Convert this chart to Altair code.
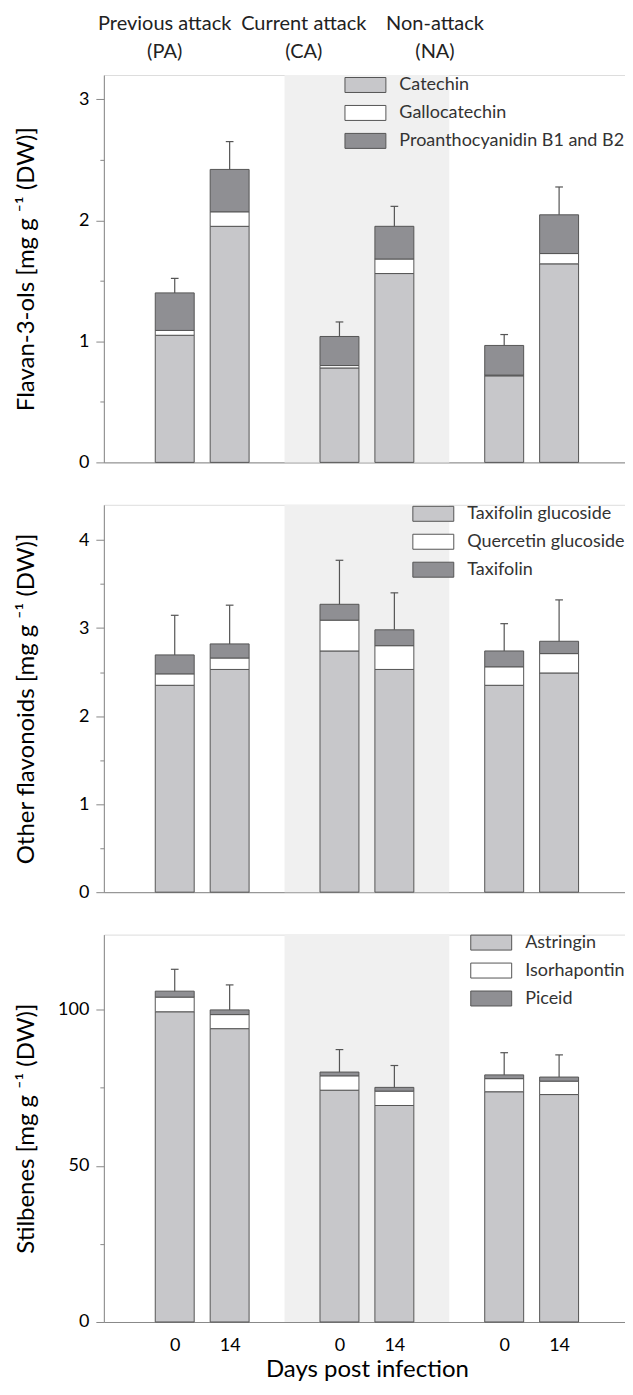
import altair as alt
import pandas as pd

FONT = "Lato"
TXT = "#333333"
AX = "#6a6a6a"
EDGE = "#555555"
LIGHT = "#c7c7ca"
WHITE = "#ffffff"
DARK = "#8f8f93"
BAND = "#f0f0f0"

# bar positions (0 / 14 dpi within PA, CA, NA groups)
x_pos = [1, 2, 4, 5, 7, 8]
day_labels = ["0", "14", "0", "14", "0", "14"]
band_x = [3]
band_x2 = [6]
header_x = [0.817, 3.35, 5.74]
header_text = ["Previous attack\n(PA)", "Current attack\n(CA)", "Non-attack\n(NA)"]

# Panel 1: Flavan-3-ols
p1_names = ["Catechin", "Gallocatechin", "Proanthocyanidin B1 and B2"]
p1_catechin = [1.05, 1.95, 0.78, 1.56, 0.715, 1.64]
p1_gallo = [0.04, 0.12, 0.02, 0.12, 0.006, 0.085]
p1_proan = [0.31, 0.35, 0.24, 0.27, 0.245, 0.32]
p1_err = [0.12, 0.23, 0.12, 0.165, 0.09, 0.23]

# Panel 2: Other flavonoids
p2_names = ["Taxifolin glucoside", "Quercetin glucoside", "Taxifolin"]
p2_tg = [2.35, 2.53, 2.74, 2.53, 2.35, 2.49]
p2_qg = [0.13, 0.13, 0.35, 0.27, 0.21, 0.22]
p2_t = [0.215, 0.16, 0.18, 0.18, 0.18, 0.14]
p2_err = [0.45, 0.44, 0.50, 0.42, 0.31, 0.47]

# Panel 3: Stilbenes
p3_names = ["Astringin", "Isorhapontin", "Piceid"]
p3_a = [99.3, 93.9, 74.2, 69.3, 73.7, 72.8]
p3_i = [4.7, 4.5, 4.6, 4.6, 4.2, 4.3]
p3_p = [1.9, 1.5, 1.2, 1.2, 1.2, 1.3]
p3_err = [7.0, 8.0, 7.2, 7.0, 7.1, 7.1]

W, H = 527, 388
XDOM = [-0.2, 9.2]
CAP = 0.07


def anchor(px, py):
    # invisible 1px layout anchor used to pin the figure's outer bounds
    return alt.Chart(pd.DataFrame({"a": [0]})).mark_rect(opacity=0).encode(
        x=alt.value(px), x2=alt.value(px + 1), y=alt.value(py), y2=alt.value(py + 1))


def panel(names, series, errs, ymax, ticks, major, ytitle, lx, ly,
          bottom=False, header=False):
    rows = []
    for k, (name, vals) in enumerate(zip(names, series)):
        for xp, v in zip(x_pos, vals):
            rows.append({"x": xp, "comp": name, "k": k, "v": v})
    df = pd.DataFrame(rows)
    totals = [sum(s[i] for s in series) for i in range(len(x_pos))]
    edf = pd.DataFrame({
        "x": x_pos,
        "total": totals,
        "top": [t + e for t, e in zip(totals, errs)],
        "xl": [x - CAP for x in x_pos],
        "xr": [x + CAP for x in x_pos],
    })
    bdf = pd.DataFrame({"x": band_x, "x2": band_x2, "y": [0], "y2": [ymax]})

    xscale = alt.Scale(domain=XDOM, nice=False, zero=False)
    yscale = alt.Scale(domain=[0, ymax], nice=False)
    if bottom:
        xaxis = alt.Axis(values=x_pos, labelExpr="datum.value % 3 == 1 ? '0' : '14'",
                         ticks=False, labelPadding=15, labelFontSize=18,
                         title="Days post infection", titleFontSize=24,
                         titleFontWeight="normal", titlePadding=3, grid=False)
    else:
        xaxis = alt.Axis(labels=False, ticks=False, title=None, grid=False)
    yaxis = alt.Axis(values=ticks,
                     labelExpr=f"datum.value % {major} ? '' : format(datum.value, 'd')",
                     tickSize={"condition": {"test": f"datum.value % {major} !== 0", "value": 4},
                               "value": 8},
                     labelPadding=7, labelFontSize=18, title=ytitle,
                     titleFontSize=24, titleFontWeight="normal",
                     titleX=-77, titleY=H / 2, titleBaseline="middle",
                     titleAlign="center", titleAngle=270, grid=False)

    band = alt.Chart(bdf).mark_rect(color=BAND).encode(
        x=alt.X("x:Q", scale=xscale, axis=xaxis),
        x2="x2",
        y=alt.Y("y:Q", scale=yscale, axis=yaxis),
        y2="y2",
    )
    bars = alt.Chart(df).mark_bar(size=39, stroke=EDGE, strokeWidth=1).encode(
        x=alt.X("x:Q", scale=xscale, axis=xaxis),
        y=alt.Y("v:Q", stack="zero", scale=yscale, axis=yaxis),
        color=alt.Color("comp:N",
                        scale=alt.Scale(domain=names, range=[LIGHT, WHITE, DARK]),
                        legend=alt.Legend(title=None, orient="none", legendX=lx, legendY=ly,
                                          padding=0,
                                          symbolType="M-2.733,-1H2.733V1H-2.733Z",
                                          symbolSize=225, symbolStrokeColor=EDGE,
                                          symbolStrokeWidth=1, symbolOpacity=1,
                                          labelFont=FONT, labelFontSize=18,
                                          labelColor=TXT, labelOffset=25,
                                          labelLimit=0, rowPadding=8)),
        order=alt.Order("k:Q", sort="ascending"),
    )
    err = alt.Chart(edf).mark_rule(color=EDGE, strokeWidth=1.2).encode(
        x=alt.X("x:Q", scale=xscale, axis=xaxis),
        y=alt.Y("total:Q", scale=yscale, axis=yaxis),
        y2="top",
    )
    cap = alt.Chart(edf).mark_rule(color=EDGE, strokeWidth=1.2).encode(
        x=alt.X("xl:Q", scale=xscale, axis=xaxis),
        x2="xr",
        y=alt.Y("top:Q", scale=yscale, axis=yaxis),
    )
    layers = [band, bars, err, cap]
    if header:
        hdf = pd.DataFrame({"hx": header_x, "label": header_text})
        head = alt.Chart(hdf).mark_text(font=FONT, fontSize=20, lineBreak="\n",
                                        lineHeight=28, baseline="alphabetic",
                                        align="center", color="#222222").encode(
            x=alt.X("hx:Q", scale=xscale, axis=xaxis),
            y=alt.value(-45),
            text="label:N",
        )
        layers += [head, anchor(-110, -95)]
    if bottom:
        layers.append(anchor(560, H + 80))
    return alt.layer(*layers).properties(width=W, height=H)


c1 = panel(p1_names, [p1_catechin, p1_gallo, p1_proan], p1_err, 3.2,
           [0, 0.5, 1, 1.5, 2, 2.5, 3], 1, "Flavan-3-ols [mg g ⁻¹ (DW)]", 253, 1,
           header=True)
c2 = panel(p2_names, [p2_tg, p2_qg, p2_t], p2_err, 4.4,
           [0, 0.5, 1, 1.5, 2, 2.5, 3, 3.5, 4], 1, "Other flavonoids [mg g ⁻¹ (DW)]",
           321, 0)
c3 = panel(p3_names, [p3_a, p3_i, p3_p], p3_err, 124,
           [0, 25, 50, 75, 100], 50, "Stilbenes [mg g ⁻¹ (DW)]", 379, -1, bottom=True)

chart = alt.vconcat(c1, c2, c3, spacing=42.5, bounds="flush").resolve_scale(
    color="independent").resolve_legend(color="independent").properties(
    padding={"left": -15, "top": -30, "right": -40, "bottom": -19}
).configure_view(stroke=None).configure_axis(
    domainColor=AX, tickColor=AX, labelColor=TXT, titleColor=TXT,
    labelFont=FONT, titleFont=FONT, titleFontWeight="normal",
    domainWidth=1.2, tickWidth=1.2,
).configure(font=FONT)

chart.save("out.html", embed_options={"renderer": "svg", "actions": False})
